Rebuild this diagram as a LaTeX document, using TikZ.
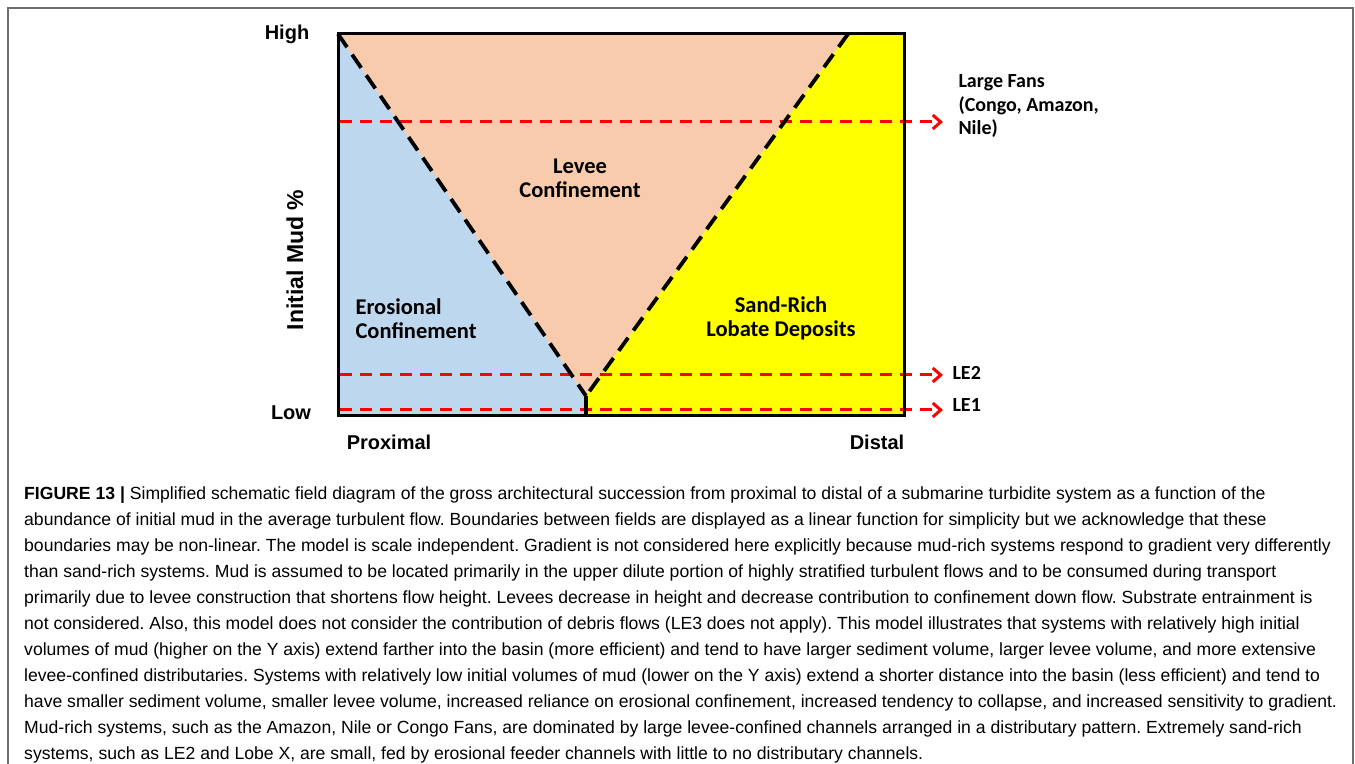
\documentclass[tikz,border=0pt]{standalone}
\usepackage{fontspec}
\setmainfont{Liberation Sans}
\newfontfamily\calibri{Carlito}
\usetikzlibrary{arrows.meta}

\definecolor{erosblue}{HTML}{BDD7EE}
\definecolor{leveepeach}{HTML}{F8CBAD}
\definecolor{sandyellow}{HTML}{FFFF00}
\definecolor{framegray}{HTML}{6E6E6E}

\begin{document}
\begin{tikzpicture}[>={Straight Barb[length=8bp,width=14bp]},line join=miter,
  axislab/.style={font=\fontsize{20bp}{24bp}\selectfont\bfseries},
  fieldlab/.style={font=\calibri\fontsize{22.5bp}{23.5bp}\selectfont\bfseries,align=center},
  sidelab/.style={font=\calibri\fontsize{20bp}{23.5bp}\selectfont\bfseries,align=left,anchor=west},
  boundary/.style={line width=3.8bp,dash pattern=on 16bp off 9bp},
  level/.style={->,red,line width=3bp,dash pattern=on 12bp off 8bp},
]
%%
  \useasboundingbox (0bp,0bp) rectangle (1355bp,764bp);
  \draw [framegray,line width=1.5bp] (8bp,0bp) -- (8bp,756bp) -- (1353bp,756bp) -- (1353bp,0bp);
%% corners of the field diagram
  \coordinate (sw) at (338bp,348bp);
  \coordinate (nw) at (338bp,730bp);
  \coordinate (ne) at (904bp,730bp);
  \coordinate (se) at (904bp,348bp);
  \coordinate (vtop) at (848bp,730bp);
  \coordinate (vtip) at (586bp,368bp);
  \coordinate (vfoot) at (586bp,348bp);
%% fields
  \fill [erosblue] (nw) -- (vtip) -- (vfoot) -- (sw) -- cycle;
  \fill [leveepeach] (nw) -- (vtop) -- (vtip) -- cycle;
  \fill [sandyellow] (vtop) -- (ne) -- (se) -- (vfoot) -- (vtip) -- cycle;
%% levels
  \coordinate (fans-w) at (340bp,642bp);
  \coordinate (fans-e) at (943bp,642bp);
  \coordinate (le2-w) at (340bp,389bp);
  \coordinate (le2-e) at (943bp,389bp);
  \coordinate (le1-w) at (340bp,354bp);
  \coordinate (le1-e) at (943bp,354bp);
  \draw [level] (fans-w) -- (fans-e);
  \draw [level] (le2-w) -- (le2-e);
  \draw [level] (le1-w) -- (le1-e);
%% boundaries
  \draw [boundary] (nw) -- (vtip);
  \draw [boundary] (vtop) -- (vtip);
  \draw [line width=3.5bp] (vtip) -- (vfoot);
  \draw [line width=3bp] (sw) rectangle (ne);
%% axis labels
  \node (high) at (287bp,730bp) [axislab] {High};
  \node (low) at (291bp,351bp) [axislab] {Low};
  \node (prox) at (389bp,322bp) [axislab] {Proximal};
  \node (dist) at (877bp,322bp) [axislab] {Distal};
  \node (mud) at (295bp,504bp) [axislab,font=\fontsize{23bp}{26bp}\selectfont\bfseries,rotate=90] {Initial Mud \%};
%% field labels
  \node (levee) at (580bp,585.5bp) [fieldlab] {Levee\\Confinement};
  \node (eros) at (352bp,445.5bp) [fieldlab,align=left,anchor=west] {Erosional\\Confinement};
  \node (sand) at (781bp,445.5bp) [fieldlab] {Sand-Rich\\Lobate Deposits};
  \node (fans) at (955bp,657.5bp) [sidelab] {Large Fans\\(Congo, Amazon,\\Nile)};
  \node (le2) at (949bp,391bp) [sidelab] {LE2};
  \node (le1) at (949bp,359bp) [sidelab] {LE1};
%% caption
  \node (caption) at (24bp,277bp) [anchor=north west,inner sep=0pt,align=left,font=\fontsize{17.6bp}{26bp}\selectfont\frenchspacing] {%
\textbf{FIGURE 13 |} Simplified schematic field diagram of the gross architectural succession from proximal to distal of a submarine turbidite system as a function of the\\
abundance of initial mud in the average turbulent flow. Boundaries between fields are displayed as a linear function for simplicity but we acknowledge that these\\
boundaries may be non-linear. The model is scale independent. Gradient is not considered here explicitly because mud-rich systems respond to gradient very differently\\
than sand-rich systems. Mud is assumed to be located primarily in the upper dilute portion of highly stratified turbulent flows and to be consumed during transport\\
primarily due to levee construction that shortens flow height. Levees decrease in height and decrease contribution to confinement down flow. Substrate entrainment is\\
not considered. Also, this model does not consider the contribution of debris flows (LE3 does not apply). This model illustrates that systems with relatively high initial\\
volumes of mud (higher on the Y axis) extend farther into the basin (more efficient) and tend to have larger sediment volume, larger levee volume, and more extensive\\
levee-confined distributaries. Systems with relatively low initial volumes of mud (lower on the Y axis) extend a shorter distance into the basin (less efficient) and tend to\\
have smaller sediment volume, smaller levee volume, increased reliance on erosional confinement, increased tendency to collapse, and increased sensitivity to gradient.\\
Mud-rich systems, such as the Amazon, Nile or Congo Fans, are dominated by large levee-confined channels arranged in a distributary pattern. Extremely sand-rich\\
systems, such as LE2 and Lobe X, are small, fed by erosional feeder channels with little to no distributary channels.};
%
\end{tikzpicture}
\end{document}
